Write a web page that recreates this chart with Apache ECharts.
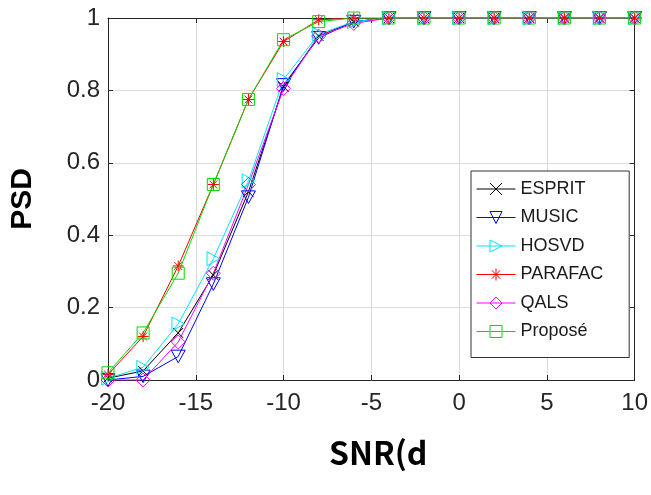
<!DOCTYPE html>
<html>
<head>
<meta charset="utf-8">
<script src="https://cdn.jsdelivr.net/npm/echarts@6/dist/echarts.min.js"></script>
<style>
html,body{margin:0;padding:0;background:#fff;}
#chart{width:651px;height:495px;}
</style>
</head>
<body>
<div id="chart"></div>
<script>
var snr = [-20,-18,-16,-14,-12,-10,-8,-6,-4,-2,0,2,4,6,8,10];
var esprit  = [0.005,0.025,0.13,0.29,0.52,0.81,0.95,0.99,1,1,1,1,1,1,1,1];
var music   = [0,0.01,0.065,0.265,0.505,0.815,0.945,0.99,1,1,1,1,1,1,1,1];
var hosvd   = [0.005,0.035,0.155,0.335,0.55,0.83,0.955,0.99,1,1,1,1,1,1,1,1];
var parafac = [0.015,0.12,0.315,0.54,0.775,0.935,0.995,1,1,1,1,1,1,1,1,1];
var qals    = [0,0,0.105,0.295,0.54,0.805,0.95,0.985,1,1,1,1,1,1,1,1];
var propose = [0.02,0.13,0.295,0.54,0.775,0.94,0.99,1,1,1,1,1,1,1,1,1];
var seriesNames = ['ESPRIT','MUSIC','HOSVD','PARAFAC','QALS','Proposé'];
var xTicks = [-20,-15,-10,-5,0,5,10];
var yTicks = [0,0.2,0.4,0.6,0.8,1];

var allData = [esprit, music, hosvd, parafac, qals, propose];
var colors = ['#000000','#0000ff','#00e5ff','#ff0000','#ff00ff','#00dd00'];
var symbols = [
  'path://M0,0L10,10M0,10L10,0',
  'path://M0,0L10,0L5,9Z',
  'path://M0,0L9,5L0,10Z',
  'path://M5,0L5,10M0,5L10,5M1.5,1.5L8.5,8.5M1.5,8.5L8.5,1.5',
  'diamond',
  'rect'
];
var sizes = [10,14,14,11,14,12];

function pairs(arr){ return snr.map(function(x,i){ return [x, arr[i]]; }); }

var series = seriesNames.map(function(n,i){
  return {
    name: n,
    type: 'line',
    xAxisIndex: 0, yAxisIndex: 0,
    data: pairs(allData[i]),
    symbol: symbols[i],
    symbolSize: sizes[i],
    symbolKeepAspect: true,
    showAllSymbol: true,
    lineStyle: {color: colors[i], width: 1},
    itemStyle: {color: 'rgba(0,0,0,0)', borderColor: colors[i], borderWidth: 1},
    emphasis: {disabled: true},
    animation: false
  };
});

var chart = echarts.init(document.getElementById('chart'), null, {renderer:'canvas'});
var axisLabelStyle = {fontFamily:'Liberation Sans', fontSize:24, color:'#262626'};
chart.setOption({
  backgroundColor: '#ffffff',
  animation: false,
  grid: {left:103, right:15, top:18, bottom:115, containLabel:false},
  legend: {
    data: seriesNames,
    orient: 'vertical',
    left: 471, top: 171,
    backgroundColor: '#ffffff',
    borderColor: '#333333',
    borderWidth: 1,
    borderRadius: 0,
    padding: [9, 26, 17, 5],
    itemWidth: 39,
    itemHeight: 15,
    itemGap: 10.5,
    lineStyle: {width: 1},
    itemStyle: {borderWidth: 1},
    textStyle: {fontFamily:'Liberation Sans', fontSize:18, color:'#1a1a1a'},
    selectedMode: false
  },
  xAxis: [{
    type:'value', min:-20, max:10, interval:5,
    axisLine:{show:true, onZero:false, lineStyle:{color:'#262626', width:1}},
    axisTick:{show:true, inside:true, length:5, lineStyle:{color:'#262626'}},
    axisLabel:Object.assign({margin:11}, axisLabelStyle),
    splitLine:{show:true, lineStyle:{color:'#dcdcdc', width:1}}
  },{
    type:'value', min:-20, max:10, interval:5, position:'top',
    axisLine:{show:true, onZero:false, lineStyle:{color:'#262626', width:1}},
    axisTick:{show:true, inside:true, length:5, lineStyle:{color:'#262626'}},
    axisLabel:{show:false}, splitLine:{show:false}
  }],
  yAxis: [{
    type:'value', min:0, max:1, interval:0.2,
    axisLine:{show:true, onZero:false, lineStyle:{color:'#262626', width:1}},
    axisTick:{show:true, inside:true, length:5, lineStyle:{color:'#262626'}},
    axisLabel:Object.assign({margin:8}, axisLabelStyle),
    splitLine:{show:true, lineStyle:{color:'#dcdcdc', width:1}},
    name:'PSD', nameLocation:'middle', nameGap:70, nameRotate:90,
    nameTextStyle:{fontFamily:'Liberation Sans', fontSize:30, fontWeight:'bold', color:'#000'}
  },{
    type:'value', min:0, max:1, interval:0.2, position:'right',
    axisLine:{show:true, onZero:false, lineStyle:{color:'#262626', width:1}},
    axisTick:{show:true, inside:true, length:5, lineStyle:{color:'#262626'}},
    axisLabel:{show:false}, splitLine:{show:false}
  }],
  graphic: [{
    type:'text', left:329, top:437,
    style:{text:'SNR(d', fontFamily:'Noto Sans CJK JP', fontSize:32, fontWeight:'bold', fill:'#000'}
  }],
  series: series
});
</script>
</body>
</html>
